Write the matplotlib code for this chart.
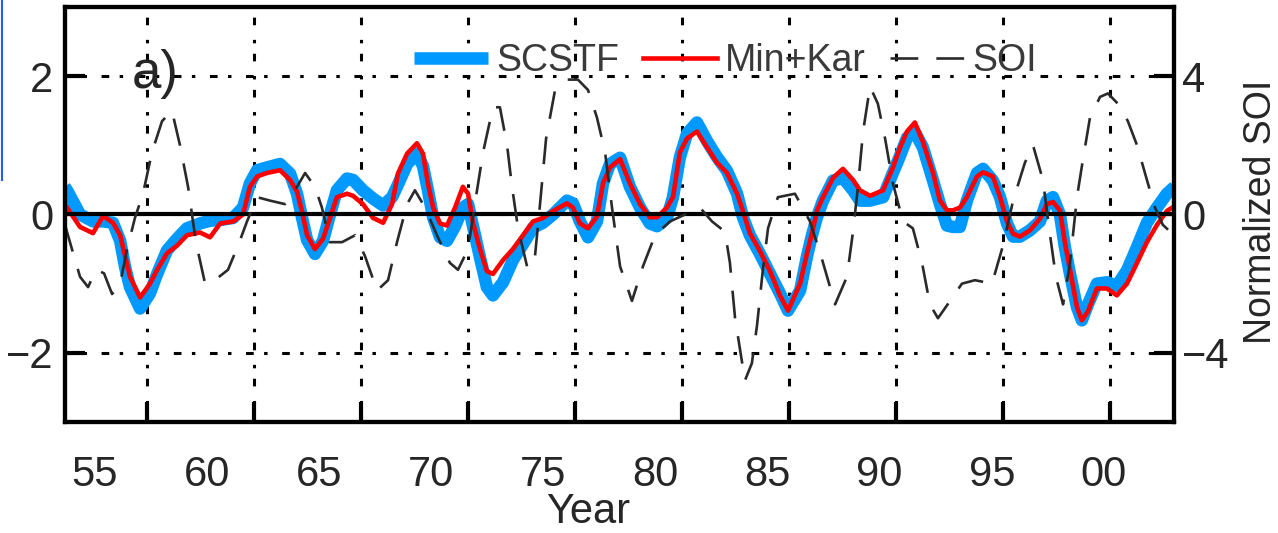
import numpy as np
import matplotlib.pyplot as plt
from matplotlib.lines import Line2D

plt.rcParams['font.family'] = ['Liberation Sans', 'DejaVu Sans']
plt.rcParams['lines.scale_dashes'] = False

# eje de tiempo comun para SCSTF y Min+Kar (anios)
year = np.array([
    1953.64, 1953.75, 1954.33, 1954.91, 1955.36, 1955.80, 1956.12, 1956.34, 1956.56, 1957.01,
    1957.45, 1957.77, 1958.21, 1958.66, 1959.10, 1959.68, 1960.13, 1960.58, 1961.16, 1961.60,
    1961.91, 1962.23, 1962.67, 1963.25, 1963.70, 1964.01, 1964.23, 1964.46, 1964.81, 1965.17,
    1965.48, 1965.79, 1966.24, 1966.51, 1966.95, 1967.40, 1967.85, 1968.25, 1968.51, 1968.92,
    1969.36, 1969.63, 1969.85, 1970.08, 1970.39, 1970.70, 1971.06, 1971.41, 1971.64, 1971.86,
    1972.17, 1972.48, 1972.75, 1973.20, 1973.64, 1974.09, 1974.54, 1974.98, 1975.43, 1976.05,
    1976.32, 1976.63, 1976.99, 1977.39, 1977.66, 1977.97, 1978.42, 1978.86, 1979.31, 1979.75,
    1980.07, 1980.51, 1980.78, 1981.09, 1981.41, 1981.85, 1982.30, 1982.74, 1983.19, 1983.64,
    1983.90, 1984.21, 1984.66, 1985.11, 1985.55, 1985.91, 1986.45, 1986.76, 1986.98, 1987.20,
    1987.47, 1987.92, 1988.36, 1988.81, 1989.12, 1989.57, 1990.15, 1990.59, 1990.91, 1991.22,
    1991.57, 1991.93, 1992.38, 1992.69, 1993.00, 1993.27, 1993.58, 1993.89, 1994.34, 1994.61,
    1995.05, 1995.37, 1995.68, 1995.95, 1996.26, 1996.70, 1997.15, 1997.46, 1997.73, 1998.04,
    1998.26, 1998.49, 1998.80, 1999.02, 1999.29, 1999.69, 2000.14, 2000.58, 2001.03, 2001.48,
    2001.92, 2002.37, 2002.81, 2003.15])

scstf = np.array([
    0.40, 0.35, 0.00, -0.10, -0.10, -0.12, -0.38, -0.76, -1.05, -1.36,
    -1.14, -0.86, -0.52, -0.35, -0.20, -0.13, -0.09, -0.08, -0.05, 0.10,
    0.45, 0.64, 0.68, 0.73, 0.59, 0.30, -0.04, -0.37, -0.57, -0.38,
    0.00, 0.35, 0.52, 0.50, 0.35, 0.23, 0.13, 0.25, 0.43, 0.73,
    0.88, 0.70, 0.35, -0.04, -0.33, -0.38, -0.17, 0.10, 0.15, -0.17,
    -0.62, -1.05, -1.17, -0.98, -0.66, -0.43, -0.19, -0.12, 0.00, 0.20,
    0.16, -0.10, -0.33, -0.10, 0.45, 0.73, 0.82, 0.40, 0.10, -0.13,
    -0.17, -0.05, 0.25, 0.83, 1.17, 1.33, 1.06, 0.83, 0.63, 0.30,
    -0.04, -0.30, -0.57, -0.86, -1.14, -1.39, -1.10, -0.60, -0.30, -0.04,
    0.20, 0.49, 0.53, 0.35, 0.20, 0.20, 0.25, 0.60, 0.85, 1.11,
    1.19, 0.97, 0.49, 0.15, -0.16, -0.18, -0.18, 0.20, 0.60, 0.66,
    0.49, 0.25, -0.13, -0.32, -0.32, -0.23, -0.10, 0.20, 0.25, 0.00,
    -0.47, -0.86, -1.34, -1.53, -1.30, -1.00, -0.98, -1.03, -0.81, -0.47,
    -0.12, 0.10, 0.30, 0.40])

minkar = np.array([
    0.15, 0.10, -0.18, -0.27, -0.02, -0.12, -0.30, -0.60, -0.90, -1.20,
    -1.00, -0.80, -0.56, -0.45, -0.30, -0.26, -0.33, -0.13, -0.10, 0.00,
    0.40, 0.55, 0.60, 0.64, 0.50, 0.33, 0.05, -0.30, -0.50, -0.35,
    -0.05, 0.25, 0.30, 0.27, 0.15, -0.05, -0.12, 0.15, 0.59, 0.88,
    1.03, 0.88, 0.45, 0.10, -0.13, -0.16, 0.10, 0.40, 0.30, -0.12,
    -0.50, -0.82, -0.86, -0.66, -0.50, -0.30, -0.10, -0.05, 0.05, 0.16,
    0.10, -0.13, -0.20, -0.03, 0.45, 0.68, 0.80, 0.45, 0.15, -0.04,
    -0.04, 0.10, 0.25, 0.90, 1.10, 1.20, 0.97, 0.75, 0.60, 0.30,
    0.05, -0.27, -0.53, -0.82, -1.17, -1.39, -1.00, -0.56, -0.27, 0.05,
    0.25, 0.53, 0.66, 0.50, 0.35, 0.27, 0.35, 0.68, 0.97, 1.20,
    1.33, 1.05, 0.60, 0.20, 0.06, 0.06, 0.10, 0.25, 0.55, 0.61,
    0.55, 0.25, -0.10, -0.28, -0.32, -0.23, -0.06, 0.15, 0.18, 0.06,
    -0.40, -0.80, -1.34, -1.53, -1.40, -1.07, -1.07, -1.17, -1.00, -0.70,
    -0.40, -0.15, 0.05, 0.12])

# SOI normalizado (eje derecho)
soi_year = np.array([
    1953.66, 1953.97, 1954.33, 1954.69, 1955.04, 1955.40, 1955.76, 1956.12, 1956.43, 1956.78,
    1957.14, 1957.54, 1957.99, 1958.43, 1958.79, 1959.15, 1959.50, 1959.91, 1960.44, 1960.93,
    1961.38, 1961.78, 1962.23, 1962.81, 1963.47, 1964.01, 1964.37, 1964.81, 1965.12, 1965.48,
    1966.02, 1966.60, 1967.04, 1967.58, 1968.07, 1968.47, 1968.92, 1969.27, 1969.72, 1970.25,
    1970.83, 1971.19, 1971.64, 1971.99, 1972.31, 1972.75, 1973.06, 1973.38, 1973.60, 1973.87,
    1974.27, 1974.58, 1974.85, 1975.12, 1975.52, 1976.05, 1976.54, 1976.99, 1977.39, 1977.75,
    1978.06, 1978.42, 1978.95, 1979.44, 1979.98, 1980.65, 1981.32, 1981.98, 1982.52, 1983.10,
    1983.32, 1983.55, 1983.99, 1984.30, 1984.53, 1984.79, 1985.02, 1985.46, 1986.22, 1986.89,
    1987.43, 1988.01, 1988.54, 1988.81, 1989.03, 1989.26, 1989.57, 1989.92, 1990.24, 1990.59,
    1991.04, 1991.48, 1991.89, 1992.24, 1992.60, 1993.14, 1993.67, 1994.25, 1995.01, 1995.50,
    1995.95, 1996.48, 1996.84, 1997.28, 1997.60, 1997.86, 1998.18, 1998.49, 1998.80, 1999.07,
    1999.38, 1999.83, 2000.18, 2000.63, 2001.07, 2001.48, 2001.92, 2002.28, 2002.63, 2003.13])

soi = np.array([
    -0.3, -1.0, -1.8, -2.1, -1.6, -1.7, -2.3, -2.0, -1.0, -0.1,
    0.6, 1.8, 2.7, 3.0, 2.0, 0.8, -0.8, -2.0, -1.85, -1.6,
    -0.9, -0.2, 0.5, 0.4, 0.3, 0.8, 1.2, 0.8, 0.2, -0.8,
    -0.8, -0.6, -1.2, -2.2, -1.9, -0.8, 0.3, 0.7, 0.2, -0.6,
    -1.4, -1.6, -1.0, 0.5, 1.8, 3.1, 3.1, 2.0, 0.8, -0.4,
    -1.5, -1.5, 0.3, 2.2, 3.6, 3.9, 3.9, 3.6, 2.8, 1.8,
    0.2, -1.5, -2.5, -1.5, -0.6, -0.2, 0.0, 0.2, -0.2, -0.5,
    -1.4, -3.0, -4.8, -4.3, -3.2, -1.6, -0.4, 0.5, 0.6, -0.2,
    -1.3, -2.6, -1.8, -0.5, 0.8, 2.4, 3.7, 3.2, 2.2, 0.9,
    -0.2, -0.4, -1.4, -2.6, -3.0, -2.5, -2.0, -1.9, -2.0, -0.9,
    0.4, 1.5, 2.0, 1.0, -0.6, -1.8, -2.6, -1.4, 0.5, 1.6,
    2.8, 3.4, 3.5, 3.2, 2.7, 2.0, 1.0, 0.2, -0.3, -0.6])

label_years = [1955, 1960, 1965, 1970, 1975, 1980, 1985, 1990, 1995, 2000]
label_text = ['55', '60', '65', '70', '75', '80', '85', '90', '95', '00']

# las marcas del eje no coinciden con las etiquetas en la figura original
grid_years = np.linspace(1957.33, 2000.28, 10)

txt_color = '#262626'
grid_style = (0, (5.5, 7.5, 2.5, 10.5))

fig = plt.figure(figsize=(12.78, 5.33), dpi=100)
ax = fig.add_axes([0.0505, 0.2083, 0.8685, 0.7786])

l_blue, = ax.plot(year, scstf, color='#0099ff', lw=9, solid_joinstyle='round',
                  solid_capstyle='butt', zorder=2)
l_red, = ax.plot(year, minkar, color='#ff0000', lw=3.3, solid_joinstyle='round', zorder=3)
ax.axhline(0, color='black', lw=3, zorder=4)

ax.set_xlim(1953.64, 2003.15)
ax.set_ylim(-3, 3)
ax.set_xticks(grid_years)
ax.set_xticklabels([])
ax.set_yticks([-2, 0, 2])
ax.grid(True, color='black', lw=2.2, linestyle=grid_style)
ax.tick_params(axis='both', direction='in', length=14.4, width=3,
               labelsize=30, labelcolor=txt_color, pad=8)
ax.tick_params(axis='x', top=False)
for s in ax.spines.values():
    s.set_linewidth(3)

for yr, t in zip(label_years, label_text):
    ax.text(yr, -0.154, t, transform=ax.get_xaxis_transform(), ha='center',
            va='baseline', fontsize=30, color=txt_color)

ax.text(0.061, 0.805, 'a)', transform=ax.transAxes, fontsize=38,
        color=txt_color, ha='left', va='baseline')

# eje derecho: SOI
ax2 = ax.twinx()
l_soi, = ax2.plot(soi_year, soi, color='#2a2a2a', lw=1.9, dashes=(20, 13))
ax2.set_ylim(-6, 6)
ax2.set_yticks([-4, 0, 4])
ax2.tick_params(axis='y', direction='in', length=14.4, width=3,
                labelsize=30, labelcolor=txt_color, pad=5.5)
for s in ax2.spines.values():
    s.set_linewidth(3)

leg = ax.legend([l_blue, l_red, l_soi], ['SCSTF', 'Min+Kar', 'SOI'],
                loc='center left', bbox_to_anchor=(0.315, 0.870), ncol=3,
                frameon=False, fontsize=27, handlelength=1.97, handletextpad=0.21,
                columnspacing=0.65, borderpad=0, borderaxespad=0)
for t in leg.get_texts():
    t.set_color('#3a3a3a')

fig.text(588 / 1278, 0.002, 'Year', ha='center', va='bottom', fontsize=30,
         color=txt_color)
fig.text(1243 / 1278, 0.6023, 'Normalized SOI', rotation=90, ha='left', va='center',
         fontsize=27, color=txt_color)

# trazo azul suelto en el borde izquierdo de la imagen original
fig.add_artist(Line2D([0.0012, 0.0012], [1.0, 1 - 180 / 533], transform=fig.transFigure,
                      color='#1f5fff', lw=1.5))

fig.savefig('out.png', dpi=100)
